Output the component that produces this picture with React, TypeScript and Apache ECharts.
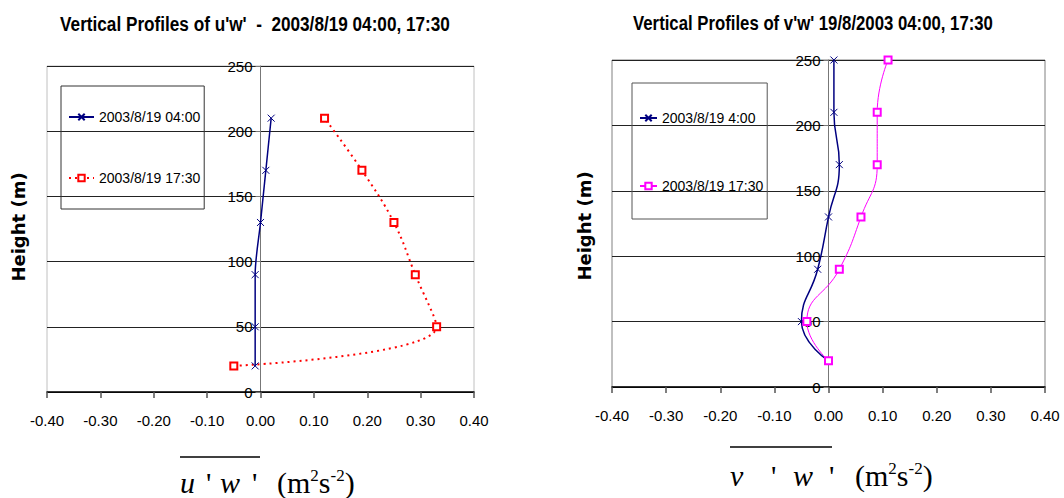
import React, { useEffect, useRef } from "react";
import * as echarts from "echarts";

// ---------- data ----------
const heightsUW = [20, 50, 90, 130, 170, 210];
const uw0400 = [-0.01, -0.01, -0.01, 0.0, 0.01, 0.02];
const uw1730 = [-0.05, 0.33, 0.29, 0.25, 0.19, 0.12];

const heightsVW = [20, 50, 90, 130, 170, 210, 250];
const vw0400 = [0.0, -0.05, -0.02, 0.0, 0.02, 0.01, 0.01];
const vw1730 = [0.0, -0.04, 0.02, 0.06, 0.09, 0.09, 0.11];

const leftNames = ["2003/8/19 04:00", "2003/8/19 17:30"];
const rightNames = ["2003/8/19 4:00", "2003/8/19 17:30"];
const leftTitle = "Vertical Profiles of u'w'  -  2003/8/19 04:00, 17:30";
const rightTitle = "Vertical Profiles of v'w' 19/8/2003 04:00, 17:30";
const yName = "Height (m)";

const X_MIN = -0.4;
const X_MAX = 0.4;
const X_STEP = 0.1;
const Y_MIN = 0;
const Y_MAX = 250;
const Y_STEP = 50;

const NAVY = "#000080";
const RED = "#ff0000";
const MAGENTA = "#ff00ff";
const FONT = '"Liberation Sans", Arial, sans-serif';
const SERIF = '"Liberation Serif", "Times New Roman", serif';
const X_SYMBOL = "path://M0,0L10,10M10,0L0,10";

function measure(text: string, font: string) {
  const t = new (echarts.graphic as any).Text({ style: { text, font } });
  return t.getBoundingRect().width;
}

function titleGraphic(text: string, cx: number, cy: number, targetW: number) {
  const font = `bold 20px ${FONT}`;
  const w = measure(text, font);
  return {
    type: "text",
    x: cx,
    y: cy,
    scaleX: targetW / w,
    style: { text, font, fill: "#000", align: "center", verticalAlign: "middle" },
  };
}

function yNameGraphic(cx: number, cy: number) {
  return {
    type: "text",
    x: cx,
    y: cy,
    rotation: Math.PI / 2,
    style: {
      text: yName,
      font: 'bold 18px "DejaVu Sans", Verdana, sans-serif',
      fill: "#000",
      align: "center",
      verticalAlign: "middle",
    },
  };
}

function xNameGraphics(
  letter: string,
  pos: number[],
  lineY: number,
  lineX1: number,
  lineX2: number,
  unitX: number,
  baseY: number
) {
  const glyphs = [letter, "'", "w", "'"];
  const els: any[] = glyphs.map((g, i) => ({
    type: "text",
    x: pos[i],
    y: baseY,
    style: {
      text: g,
      font: `${g === "'" ? "normal" : "italic"} 30px ${SERIF}`,
      fill: "#000",
      align: "left",
      verticalAlign: "bottom",
    },
  }));
  els.push({
    type: "line",
    shape: { x1: lineX1, y1: lineY, x2: lineX2, y2: lineY },
    style: { stroke: "#000", lineWidth: 1.5 },
  });
  els.push({
    type: "text",
    x: unitX,
    y: baseY,
    style: {
      text: "{a|(m}{b|2}{a|s}{b|-2}{a|)}",
      fill: "#000",
      align: "left",
      verticalAlign: "bottom",
      rich: {
        a: { fontSize: 30, fontFamily: SERIF, fill: "#000" },
        b: { fontSize: 17, fontFamily: SERIF, fill: "#000", verticalAlign: "top" },
      },
    },
  });
  return els;
}

function axes(gridWidth: number) {
  // place the y axis (line, ticks and labels) at x = 0, as in the original
  const zeroOffset = ((0 - X_MIN) / (X_MAX - X_MIN)) * gridWidth;
  return {
    xAxis: {
      type: "value",
      min: X_MIN,
      max: X_MAX,
      interval: X_STEP,
      axisLine: { onZero: false, lineStyle: { color: "#000", width: 1.5 } },
      axisTick: { show: true, length: 6, lineStyle: { color: "#555", width: 1.5 } },
      axisLabel: {
        color: "#000",
        fontSize: 15,
        fontFamily: FONT,
        margin: 21,
        formatter: (v: number) => v.toFixed(2),
      },
      splitLine: { show: false },
    },
    yAxis: {
      type: "value",
      min: Y_MIN,
      max: Y_MAX,
      interval: Y_STEP,
      position: "left",
      offset: -zeroOffset,
      axisLine: { show: true, onZero: false, lineStyle: { color: "#777", width: 1 } },
      axisTick: { show: true, length: 5, lineStyle: { color: "#777" } },
      axisLabel: { color: "#000", fontSize: 15, fontFamily: FONT, margin: 8 },
      splitLine: { show: true, lineStyle: { color: "#222", width: 1 } },
    },
  };
}

function leftOption(): any {
  const W = 427;
  const ax = axes(W);
  return {
    animation: false,
    backgroundColor: "#fff",
    textStyle: { fontFamily: FONT },
    grid: {
      left: 47,
      top: 66,
      width: W,
      height: 326,
      show: true,
      borderColor: "#c0c0c0",
      borderWidth: 1,
      backgroundColor: "transparent",
    },
    xAxis: ax.xAxis,
    yAxis: ax.yAxis,
    legend: {
      orient: "vertical",
      left: 61,
      top: 86,
      data: leftNames,
      borderColor: "#333",
      borderWidth: 1,
      padding: [24, 4, 24, 7],
      itemGap: 47,
      itemWidth: 25,
      itemHeight: 8,
      textStyle: { fontSize: 14, color: "#000", fontFamily: FONT },
    },
    series: [
      {
        name: leftNames[0],
        type: "line",
        data: heightsUW.map((h, i) => [uw0400[i], h]),
        smooth: 0.3,
        symbol: X_SYMBOL,
        symbolSize: 7,
        lineStyle: { color: NAVY, width: 1.5 },
        itemStyle: { color: NAVY, borderColor: NAVY, borderWidth: 1 },
      },
      {
        name: leftNames[1],
        type: "line",
        data: heightsUW.map((h, i) => [uw1730[i], h]),
        smooth: 0.4,
        symbol: "emptyRect",
        symbolSize: 7,
        lineStyle: { color: RED, width: 2, type: [2, 4] },
        itemStyle: { color: RED, borderColor: RED, borderWidth: 1 },
      },
    ],
    graphic: [
      titleGraphic(leftTitle, 255, 24, 390),
      yNameGraphic(18.5, 227),
      ...xNameGraphics("u", [180, 206, 220, 252], 457, 180, 260, 277, 497),
    ],
  };
}

function rightOption(): any {
  const W = 433;
  const ax = axes(W);
  return {
    animation: false,
    backgroundColor: "#fff",
    textStyle: { fontFamily: FONT },
    grid: {
      left: 80,
      top: 60,
      width: W,
      height: 327,
      show: true,
      borderColor: "#808080",
      borderWidth: 1,
      backgroundColor: "transparent",
    },
    xAxis: ax.xAxis,
    yAxis: ax.yAxis,
    legend: {
      orient: "vertical",
      left: 100,
      top: 83,
      data: rightNames,
      borderColor: "#555",
      borderWidth: 1,
      padding: [28, 4, 26, 7],
      itemGap: 54,
      itemWidth: 17,
      itemHeight: 8,
      textStyle: { fontSize: 14, color: "#000", fontFamily: FONT },
    },
    series: [
      {
        name: rightNames[0],
        type: "line",
        data: heightsVW.map((h, i) => [vw0400[i], h]),
        smooth: 0.5,
        symbol: X_SYMBOL,
        symbolSize: 7,
        lineStyle: { color: NAVY, width: 1.5 },
        itemStyle: { color: NAVY, borderColor: NAVY, borderWidth: 1 },
      },
      {
        name: rightNames[1],
        type: "line",
        data: heightsVW.map((h, i) => [vw1730[i], h]),
        smooth: 0.5,
        symbol: "emptyRect",
        symbolSize: 7,
        lineStyle: { color: MAGENTA, width: 1 },
        itemStyle: { color: MAGENTA, borderColor: MAGENTA, borderWidth: 1 },
      },
    ],
    graphic: [
      titleGraphic(rightTitle, 281, 23, 360),
      yNameGraphic(52.5, 226),
      ...xNameGraphics("v", [198, 239, 261, 297], 447, 198, 300, 323, 490),
    ],
  };
}

function Chart({ left, option }: { left: number; option: () => any }) {
  const ref = useRef<HTMLDivElement>(null);
  useEffect(() => {
    if (!ref.current) return;
    const chart = echarts.init(ref.current, undefined, { renderer: "svg" });
    chart.setOption(option());
    return () => chart.dispose();
  }, []);
  return (
    <div
      ref={ref}
      style={{ position: "absolute", left, top: 0, width: 532, height: 498 }}
    />
  );
}

export default function App() {
  return (
    <div style={{ position: "absolute", left: 0, top: 0, width: 1064, height: 498, background: "#fff" }}>
      <Chart left={0} option={leftOption} />
      <Chart left={532} option={rightOption} />
    </div>
  );
}
